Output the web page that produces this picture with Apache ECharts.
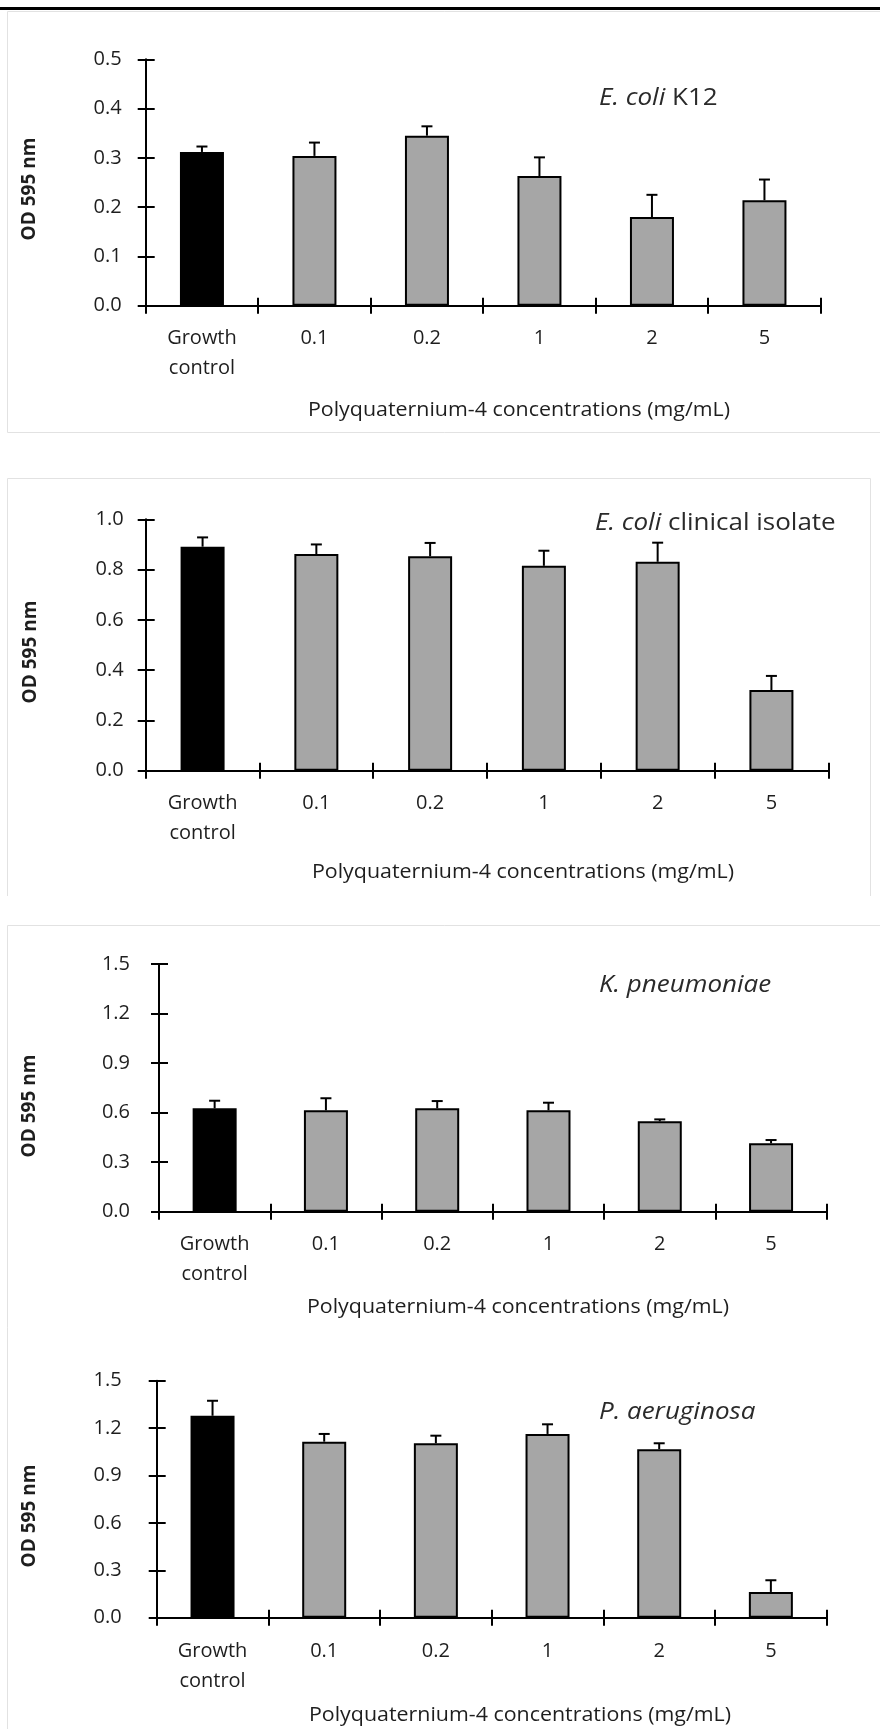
<!DOCTYPE html>
<html>
<head>
<meta charset="utf-8">
<script src="https://cdn.jsdelivr.net/npm/echarts@6/dist/echarts.min.js"></script>
<style>
  html, body { margin: 0; padding: 0; background: #fff; }
  #chart { width: 880px; height: 1729px; }
</style>
</head>
<body>
<div id="chart"></div>
<script>
// ---- data ----
const categories = ['Growth\ncontrol', '0.1', '0.2', '1', '2', '5'];
const xAxisTitle = 'Polyquaternium-4 concentrations (mg/mL)';
const yAxisTitle = 'OD 595 nm';

const k12Values = [0.312, 0.304, 0.345, 0.263, 0.180, 0.214];
const k12Errors = [0.011, 0.027, 0.019, 0.038, 0.045, 0.042];

const clinicalValues = [0.891, 0.862, 0.853, 0.815, 0.831, 0.321];
const clinicalErrors = [0.037, 0.038, 0.053, 0.060, 0.076, 0.056];

const kpnValues = [0.626, 0.614, 0.626, 0.614, 0.547, 0.414];
const kpnErrors = [0.046, 0.073, 0.044, 0.046, 0.012, 0.020];

const paeValues = [1.278, 1.114, 1.104, 1.163, 1.066, 0.163];
const paeErrors = [0.095, 0.049, 0.048, 0.061, 0.038, 0.074];

const k12Ticks = { max: 0.5, interval: 0.1 };
const clinicalTicks = { max: 1.0, interval: 0.2 };
const kpnTicks = { max: 1.5, interval: 0.3 };
const paeTicks = { max: 1.5, interval: 0.3 };

// ---- layout / style ----
const FONT = 'Open Sans';
const TXT = '#1e1e1e';
const panels = [
  { grid: { left: 145.7, top: 59.3, width: 675, height: 246.4 }, values: k12Values, errors: k12Errors, ticks: k12Ticks,
    ylabMargin: 24, xlabMargin: 18, titleRich: '{i|E. coli} K12', titleX: 599, titleY: 98,
    yNameX: 30, yNameY: 189, xNameX: 519, xNameY: 410 },
  { grid: { left: 145.7, top: 519.3, width: 682.6, height: 251.4 }, values: clinicalValues, errors: clinicalErrors, ticks: clinicalTicks,
    ylabMargin: 22, xlabMargin: 17.6, titleRich: '{i|E. coli} clinical isolate', titleX: 595, titleY: 523,
    yNameX: 31, yNameY: 652, xNameX: 523, xNameY: 872 },
  { grid: { left: 159, top: 964, width: 667.7, height: 247.7 }, values: kpnValues, errors: kpnErrors, ticks: kpnTicks,
    ylabMargin: 29, xlabMargin: 18, titleRich: '{i|K. pneumoniae}', titleX: 599, titleY: 985,
    yNameX: 30, yNameY: 1106, xNameX: 518, xNameY: 1307 },
  { grid: { left: 156.7, top: 1380.7, width: 670, height: 237 }, values: paeValues, errors: paeErrors, ticks: paeTicks,
    ylabMargin: 35, xlabMargin: 19, titleRich: '{i|P. aeruginosa}', titleX: 599, titleY: 1412,
    yNameX: 30, yNameY: 1516, xNameX: 520, xNameY: 1715 }
];

const grids = [], xAxes = [], yAxes = [], series = [], graphics = [];

// page decorations: top rule and light panel frames
const FRAME = { fill: 'none', stroke: '#e2e2e2', lineWidth: 1 };
graphics.push({ type: 'rect', shape: { x: 0, y: 7, width: 880, height: 3 }, style: { fill: '#000' }, silent: true });
graphics.push({ type: 'rect', shape: { x: 7.5, y: 11.5, width: 880, height: 421 }, style: FRAME, silent: true });
graphics.push({ type: 'polyline', shape: { points: [[7.5, 896], [7.5, 478.5], [870.5, 478.5], [870.5, 896]] }, style: FRAME, silent: true });
graphics.push({ type: 'rect', shape: { x: 7.5, y: 925.5, width: 880, height: 820 }, style: FRAME, silent: true });

panels.forEach((p, i) => {
  grids.push(Object.assign({ outerBoundsMode: 'none', containLabel: false }, p.grid));
  const axisLineStyle = { color: '#000', width: 2 };
  // main x axis (ticks outside + labels)
  xAxes.push({
    gridIndex: i, type: 'category', data: categories, boundaryGap: true, position: 'bottom',
    axisLine: { show: true, lineStyle: axisLineStyle },
    axisTick: { show: true, inside: false, length: 8, interval: 0, lineStyle: axisLineStyle },
    axisLabel: { show: true, interval: 0, margin: p.xlabMargin, fontSize: 20, lineHeight: 30, fontFamily: FONT, color: TXT },
    splitLine: { show: false }
  });
  // companion x axis (ticks inside -> crossing ticks)
  xAxes.push({
    gridIndex: i, type: 'category', data: categories, boundaryGap: true, position: 'bottom', offset: 0,
    axisLine: { show: false },
    axisTick: { show: true, inside: true, length: 8, interval: 0, lineStyle: axisLineStyle },
    axisLabel: { show: false }, splitLine: { show: false }
  });
  yAxes.push({
    gridIndex: i, type: 'value', min: 0, max: p.ticks.max, interval: p.ticks.interval, position: 'left',
    axisLine: { show: true, lineStyle: axisLineStyle },
    axisTick: { show: true, inside: false, length: 8, lineStyle: axisLineStyle },
    axisLabel: { show: true, margin: p.ylabMargin, fontSize: 20, fontFamily: FONT, color: TXT, formatter: v => v.toFixed(1) },
    splitLine: { show: false }
  });
  yAxes.push({
    gridIndex: i, type: 'value', min: 0, max: p.ticks.max, interval: p.ticks.interval, position: 'left', offset: 0,
    axisLine: { show: false },
    axisTick: { show: true, inside: true, length: 9, lineStyle: axisLineStyle },
    axisLabel: { show: false }, splitLine: { show: false }
  });
  series.push({
    type: 'bar', xAxisIndex: 2 * i, yAxisIndex: 2 * i, data: p.values, barWidth: 44,
    itemStyle: { color: params => params.dataIndex === 0 ? '#000000' : '#a6a6a6', borderColor: '#000', borderWidth: 2 },
    z: 2, animation: false
  });
  series.push({
    type: 'custom', xAxisIndex: 2 * i, yAxisIndex: 2 * i, z: 3, animation: false,
    data: p.values.map((v, k) => [k, v, v + p.errors[k]]),
    renderItem: (params, api) => {
      const base = api.coord([api.value(0), api.value(1)]);
      const top = api.coord([api.value(0), api.value(2)]);
      const st = { stroke: '#000', lineWidth: 2 };
      return { type: 'group', children: [
        { type: 'line', shape: { x1: base[0], y1: base[1], x2: base[0], y2: top[1] }, style: st },
        { type: 'line', shape: { x1: base[0] - 5.5, y1: top[1], x2: base[0] + 5.5, y2: top[1] }, style: st }
      ] };
    }
  });
  // panel title (organism)
  graphics.push({
    type: 'text', x: p.titleX, y: p.titleY, scaleX: 1.13, silent: true,
    style: {
      text: p.titleRich, align: 'left', verticalAlign: 'middle', fill: '#2a2a2a',
      fontFamily: FONT, fontSize: 23,
      rich: { i: { fontStyle: 'italic', fontFamily: FONT, fontSize: 23, fill: '#2a2a2a' } }
    }
  });
  // y axis name
  graphics.push({
    type: 'text', x: p.yNameX, y: p.yNameY, rotation: Math.PI / 2, silent: true,
    style: { text: yAxisTitle, align: 'center', verticalAlign: 'middle', fill: TXT, fontFamily: FONT, fontSize: 19, fontWeight: 'bold' }
  });
  // x axis name
  graphics.push({
    type: 'text', x: p.xNameX, y: p.xNameY, scaleX: 1.07, silent: true,
    style: { text: xAxisTitle, align: 'center', verticalAlign: 'middle', fill: TXT, fontFamily: FONT, fontSize: 20 }
  });
});

const chart = echarts.init(document.getElementById('chart'), null, { renderer: 'canvas' });
chart.setOption({
  animation: false,
  backgroundColor: '#ffffff',
  grid: grids,
  xAxis: xAxes,
  yAxis: yAxes,
  series: series,
  graphic: graphics
});
</script>
</body>
</html>
